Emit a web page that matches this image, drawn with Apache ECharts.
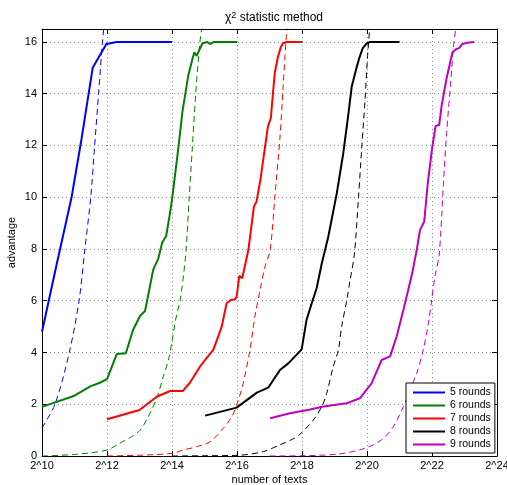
<!DOCTYPE html>
<html>
<head>
<meta charset="utf-8">
<script src="https://cdn.jsdelivr.net/npm/echarts@6/dist/echarts.min.js"></script>
<style>
html,body{margin:0;padding:0;background:#fff;}
#chart{width:507px;height:485px;}
</style>
</head>
<body>
<div id="chart"></div>
<script>
// x values are log2(number of texts)
var xTicks = [10, 12, 14, 16, 18, 20, 22, 24];
var yTicks = [0, 2, 4, 6, 8, 10, 12, 14, 16];
var seriesNames = ['5 rounds', '6 rounds', '7 rounds', '8 rounds', '9 rounds'];
var colors = ['#0000ff', '#008000', '#ff0000', '#000000', '#bf00bf'];

// measured (solid) curves
var r5X = [10, 10.45, 10.91, 11.22, 11.56, 11.98, 12.3, 14];
var r5Y = [4.8, 7.4, 10.0, 12.28, 15.0, 15.92, 16, 16];

var r6X = [10, 11, 11.5, 11.78, 12, 12.3, 12.58, 12.8, 13.02, 13.17, 13.42, 13.58, 13.7, 13.82, 13.92, 14.0, 14.2, 14.32, 14.5, 14.64, 14.69, 14.76, 14.84, 14.94, 15.09, 15.17, 15.29, 16];
var r6Y = [1.9, 2.33, 2.7, 2.83, 2.97, 3.94, 3.97, 4.87, 5.42, 5.6, 7.19, 7.64, 8.25, 8.5, 9.25, 9.9, 11.95, 13.3, 14.7, 15.4, 15.6, 15.46, 15.69, 15.95, 16, 15.92, 16, 16];

var r7X = [12, 13.0, 13.53, 13.94, 14.33, 14.55, 14.86, 15.02, 15.27, 15.38, 15.53, 15.68, 15.81, 15.94, 15.99, 16.07, 16.16, 16.35, 16.52, 16.6, 16.72, 16.95, 17.04, 17.16, 17.26, 17.35, 17.42, 17.53, 18];
var r7Y = [1.42, 1.78, 2.29, 2.51, 2.51, 2.83, 3.45, 3.71, 4.1, 4.48, 5.0, 5.9, 6.03, 6.06, 6.16, 6.96, 6.87, 7.96, 9.63, 9.83, 10.67, 12.73, 13.05, 14.79, 15.43, 15.8, 15.95, 16, 16];

var r8X = [15.02, 15.99, 16.3, 16.61, 16.96, 17.32, 17.58, 17.63, 17.99, 18.14, 18.3, 18.45, 18.61, 18.71, 18.81, 19.07, 19.27, 19.43, 19.53, 19.66, 19.76, 19.87, 19.97, 20.09, 21];
var r8Y = [1.56, 1.87, 2.16, 2.45, 2.64, 3.32, 3.58, 3.61, 4.12, 5.26, 5.9, 6.48, 7.45, 7.96, 8.48, 10.15, 11.7, 13.24, 14.27, 14.92, 15.37, 15.76, 15.92, 16, 16];

var r9X = [17.02, 17.63, 18.25, 18.66, 19.38, 19.78, 20.14, 20.45, 20.71, 20.91, 21.12, 21.38, 21.53, 21.63, 21.76, 21.87, 22.01, 22.11, 22.22, 22.3, 22.45, 22.63, 22.74, 22.83, 22.93, 23.09, 23.29];
var r9Y = [1.46, 1.65, 1.8, 1.91, 2.04, 2.23, 2.81, 3.71, 3.85, 4.61, 5.64, 7.0, 7.96, 8.73, 9.06, 10.54, 11.95, 12.75, 12.79, 13.57, 14.6, 15.6, 15.72, 15.76, 15.92, 15.97, 16];

// theoretical (dashed) curves
var t5X = [10, 10.4, 10.84, 11.14, 11.32, 11.5, 11.62, 11.74, 11.86, 11.92];
var t5Y = [1.09, 2, 4, 6, 8, 10, 12, 14, 16, 16.8];

var t6X = [10, 11, 12, 12.4, 12.76, 13.02, 13.27, 13.53, 13.73, 13.89, 13.99, 14.14, 14.25, 14.42, 14.53, 14.63, 14.73, 14.86, 14.95];
var t6Y = [0, 0.06, 0.23, 0.5, 0.75, 1.0, 1.52, 2.23, 3.06, 3.71, 4.36, 5.45, 6.0, 7.77, 10, 12, 14, 16, 16.8];

var t7X = [12, 13, 14, 14.35, 14.76, 15.17, 15.53, 15.84, 16.04, 16.19, 16.4, 16.55, 16.71, 16.86, 17.02, 17.17, 17.32, 17.42, 17.53, 17.56];
var t7Y = [0, 0.03, 0.1, 0.23, 0.36, 0.55, 1.0, 1.52, 2.16, 2.81, 4.1, 5.38, 6.42, 7.32, 7.96, 10.1, 12.28, 14.3, 16.46, 16.8];

var t8X = [14, 15, 16.09, 16.81, 17.32, 17.63, 17.9, 18.35, 18.61, 18.76, 18.96, 19.12, 19.22, 19.38, 19.48, 19.61, 19.74, 19.84, 19.94, 20.01, 20.1];
var t8Y = [0, 0.01, 0.03, 0.17, 0.43, 0.6, 0.8, 1.39, 1.91, 2.42, 3.45, 4.1, 5.0, 6.03, 6.8, 7.77, 10.02, 11.95, 13.76, 15.3, 16.8];

var t9X = [17, 18, 19.17, 19.84, 20.19, 20.5, 20.81, 21.12, 21.32, 21.53, 21.73, 21.89, 21.99, 22.09, 22.22, 22.35, 22.45, 22.58, 22.66, 22.76];
var t9Y = [0, 0.01, 0.08, 0.26, 0.43, 0.68, 1.13, 1.91, 2.55, 3.2, 4.1, 5.13, 6.03, 6.93, 7.77, 10.5, 12.5, 14.5, 15.8, 16.8];

function zip(xs, ys) { return xs.map(function (x, i) { return [x, ys[i]]; }); }

var measured = [[r5X, r5Y], [r6X, r6Y], [r7X, r7Y], [r8X, r8Y], [r9X, r9Y]];
var theory = [[t5X, t5Y], [t6X, t6Y], [t7X, t7Y], [t8X, t8Y], [t9X, t9Y]];

var FONT = 'Liberation Sans, Arial, Helvetica, sans-serif';
var series = [];
theory.forEach(function (t, i) {
  series.push({
    name: 'theory ' + seriesNames[i],
    type: 'line',
    data: zip(t[0], t[1]),
    symbol: 'none',
    smooth: 0.3,
    clip: true,
    lineStyle: { color: colors[i], width: 1, type: [6, 4] },
    z: 2
  });
});
measured.forEach(function (m, i) {
  series.push({
    name: seriesNames[i],
    type: 'line',
    data: zip(m[0], m[1]),
    symbol: 'none',
    clip: true,
    itemStyle: { color: colors[i] },
    lineStyle: { color: colors[i], width: 2 },
    z: 3
  });
});

var chart = echarts.init(document.getElementById('chart'));
chart.setOption({
  animation: false,
  backgroundColor: '#fff',
  textStyle: { fontFamily: FONT },
  title: {
    text: '{n|χ}{s|2}{n| statistic method}',
    left: 269, top: 6, textAlign: 'center',
    textStyle: {
      fontWeight: 'normal',
      rich: {
        n: { fontSize: 12, color: '#000', fontFamily: FONT, fontWeight: 'normal', lineHeight: 14 },
        s: { fontSize: 9, color: '#000', fontFamily: FONT, fontWeight: 'normal', verticalAlign: 'top', lineHeight: 10, padding: [0, 0, 6, 0] }
      }
    }
  },
  legend: {
    data: seriesNames,
    orient: 'vertical',
    left: 406, top: 383,
    icon: 'rect',
    itemWidth: 32, itemHeight: 2, itemGap: 0,
    padding: [3, 4, 2, 7],
    backgroundColor: '#fff',
    borderColor: '#000', borderWidth: 1,
    textStyle: { fontSize: 10.5, color: '#000', fontFamily: FONT, lineHeight: 13 },
    z: 10
  },
  grid: { left: 42, right: 10, top: 29, bottom: 29, containLabel: false, outerBoundsMode: 'none' },
  xAxis: [{
    type: 'value', min: 10, max: 24, interval: 2,
    name: 'number of texts', nameLocation: 'middle', nameGap: 18, nameMoveOverlap: false,
    nameTextStyle: { fontSize: 11, color: '#000' },
    axisLine: { show: true, onZero: false, lineStyle: { color: '#000', width: 1 } },
    axisTick: { show: true, inside: true, length: 5, lineStyle: { color: '#000' } },
    axisLabel: { fontSize: 11, color: '#000', margin: 4, hideOverlap: false, formatter: function (v) { return '2^' + v; } },
    splitLine: { show: true, lineStyle: { color: '#8c8c8c', width: 1, type: [1, 3] } }
  }, {
    type: 'value', min: 10, max: 24, interval: 2, position: 'top', z: 5,
    axisLine: { show: true, onZero: false, lineStyle: { color: '#000', width: 1 } },
    axisTick: { show: true, inside: true, length: 5, lineStyle: { color: '#000' } },
    axisLabel: { show: false },
    splitLine: { show: false }
  }],
  yAxis: [{
    type: 'value', min: 0, max: 16.5, interval: 2,
    name: 'advantage', nameLocation: 'middle', nameGap: 25, nameMoveOverlap: false,
    nameTextStyle: { fontSize: 11, color: '#000' },
    axisLine: { show: true, onZero: false, lineStyle: { color: '#000', width: 1 } },
    axisTick: { show: true, inside: true, length: 5, lineStyle: { color: '#000' } },
    axisLabel: { fontSize: 11, color: '#000', margin: 5, showMaxLabel: false,
      formatter: function (v) { return (v % 2 === 0) ? String(v) : ''; } },
    splitLine: { show: true, lineStyle: { color: '#8c8c8c', width: 1, type: [1, 3] } }
  }, {
    type: 'value', min: 0, max: 16.5, interval: 2, position: 'right', z: 5,
    axisLine: { show: true, onZero: false, lineStyle: { color: '#000', width: 1 } },
    axisTick: { show: true, inside: true, length: 5, lineStyle: { color: '#000' } },
    axisLabel: { show: false },
    splitLine: { show: false }
  }],
  series: series
});
</script>
</body>
</html>
